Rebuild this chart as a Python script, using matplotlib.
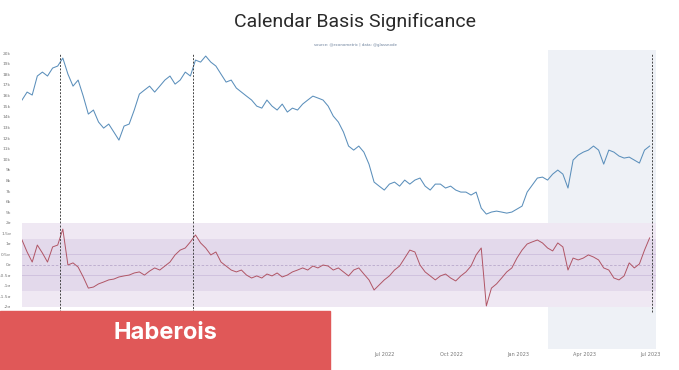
import numpy as np
import pandas as pd
import matplotlib
matplotlib.use("Agg")
import matplotlib.pyplot as plt
import matplotlib.dates as mdates

# weekly samples
dates = pd.date_range("2021-02-19", periods=124, freq="7D")

price = [15.58, 16.33, 16.05, 17.84, 18.21, 17.84, 18.59, 18.78, 19.53, 18.02,
         16.89, 17.46, 15.95, 14.26, 14.64, 13.51, 12.94, 13.32, 12.57, 11.81,
         13.13, 13.32, 14.64, 16.14, 16.52, 16.89, 16.33, 16.89, 17.46, 17.84,
         17.08, 17.46, 18.21, 17.84, 19.34, 19.15, 19.72, 19.15, 18.78, 18.02,
         17.27, 17.46, 16.71, 16.33, 15.95, 15.58, 15.01, 14.82, 15.58, 15.01,
         14.64, 15.20, 14.45, 14.82, 14.64, 15.20, 15.58, 15.95, 15.77, 15.58,
         15.01, 14.07, 13.51, 12.57, 11.25, 10.87, 11.25, 10.68, 9.55, 7.86,
         7.48, 7.11, 7.67, 7.86, 7.48, 8.05, 7.67, 8.05, 8.24, 7.48,
         7.11, 7.67, 7.67, 7.30, 7.48, 7.11, 6.92, 6.92, 6.64, 6.92,
         5.41, 4.85, 5.04, 5.13, 5.04, 4.94, 5.04, 5.32, 5.60, 6.92,
         7.58, 8.24, 8.33, 8.05, 8.61, 8.99, 8.61, 7.30, 9.93, 10.40,
         10.68, 10.87, 11.25, 10.87, 9.55, 10.87, 10.68, 10.31, 10.12, 10.21,
         9.93, 9.65, 10.87, 11.25]

basis_z = [1.19, 0.62, 0.14, 0.95, 0.57, 0.14, 0.86, 0.95, 1.71, 0.00,
           0.10, -0.10, -0.57, -1.10, -1.05, -0.90, -0.81, -0.71, -0.67, -0.57,
           -0.52, -0.48, -0.38, -0.33, -0.48, -0.29, -0.14, -0.24, -0.05, 0.14,
           0.48, 0.71, 0.81, 1.10, 1.43, 1.05, 0.81, 0.48, 0.62, 0.14,
           -0.05, -0.24, -0.33, -0.24, -0.48, -0.62, -0.52, -0.62, -0.43, -0.52,
           -0.38, -0.57, -0.48, -0.33, -0.24, -0.14, -0.24, -0.05, -0.14, 0.00,
           -0.05, -0.24, -0.14, -0.33, -0.52, -0.24, -0.14, -0.43, -0.71, -1.19,
           -0.95, -0.71, -0.52, -0.24, -0.05, 0.33, 0.71, 0.62, 0.00, -0.33,
           -0.52, -0.71, -0.52, -0.43, -0.62, -0.76, -0.52, -0.33, -0.05, 0.48,
           0.81, -1.95, -1.10, -0.90, -0.62, -0.33, -0.14, 0.33, 0.71, 1.00,
           1.10, 1.19, 1.05, 0.81, 0.67, 1.05, 0.86, -0.24, 0.33, 0.24,
           0.33, 0.48, 0.38, 0.24, -0.14, -0.24, -0.62, -0.71, -0.52, 0.10,
           -0.14, 0.05, 0.71, 1.29]

signal_dates = pd.to_datetime(["2021-04-12", "2021-10-12", "2023-07-03"])
shade_start, shade_end = pd.Timestamp("2023-02-11"), pd.Timestamp("2023-07-09")

price_ticks = list(range(4, 21))
z_ticks = [2, 1.5, 1, 0.5, 0, -0.5, -1, -1.5, -2, -2.5, -3, -3.5, -4]

xmin, xmax = pd.Timestamp("2021-02-19"), pd.Timestamp("2023-07-09")

fig = plt.figure(figsize=(6.79, 3.70), dpi=100)
ax1 = fig.add_axes([0.0324, 0.397, 0.934, 0.4676])
ax2 = fig.add_axes([0.0324, 0.0568, 0.934, 0.3405], sharex=ax1)

for ax in (ax1, ax2):
    for s in ax.spines.values():
        s.set_visible(False)
    ax.axvspan(shade_start, shade_end, color="#eef1f6", zorder=0, lw=0)
    ax.tick_params(length=0, labelsize=3.2, colors="#777777", pad=8)

# top panel
ax1.plot(dates, price, color="#5b8fbb", lw=0.75)
ax1.set_ylim(4, 20.28)
ax1.set_yticks(price_ticks[1:])
ax1.set_yticklabels([f"{t}k" for t in price_ticks[1:]])
ax1.tick_params(axis="x", labelbottom=False)
for d in signal_dates:
    ax1.axvline(d, color="#444444", lw=0.7, ls=(0, (2, 1.5)), ymax=0.98)

# bottom panel
ax2.axhspan(-2, 2, color="#efe8f3", lw=0, zorder=0.5)
ax2.axhspan(-1.25, 1.25, color="#e3d9eb", lw=0, zorder=0.6)
ax2.axhline(0.5, color="#d0c2de", lw=0.7)
ax2.axhline(-0.5, color="#d0c2de", lw=0.7)
ax2.axhline(0, color="#b9a9cb", lw=0.6, ls=(0, (3, 2)))
ax2.plot(dates, basis_z, color="#b05565", lw=0.7)
ax2.set_ylim(-4, 2)
ax2.set_yticks(z_ticks)
ax2.set_yticklabels([f"{t:g}σ" for t in z_ticks])
for d in signal_dates:
    ax2.axvline(d, color="#444444", lw=0.7, ls=(0, (2, 1.5)), ymin=0.294)

ax2.set_xlim(xmin, xmax)
ax2.xaxis.set_major_locator(mdates.MonthLocator(bymonth=[1, 4, 7, 10]))
ax2.xaxis.set_major_formatter(mdates.DateFormatter("%b %Y"))
ax2.tick_params(axis="x", labelsize=3.6, pad=2)

fig.text(0.523, 0.94, "Calendar Basis Significance", ha="center", va="center",
         fontsize=14, family="Roboto", fontweight="normal", color="#2a2a2a")
fig.text(0.523, 0.878, "source: @econometric | data: @glassnode", ha="center",
         va="center", fontsize=2.8, color="#6a7f9a")

# banner
fig.patches.append(plt.Rectangle((0, 0), 330 / 679, 59 / 370, transform=fig.transFigure,
                                 color="#e05858", zorder=5))
fig.text(165 / 679, 1 - 333 / 370, "Haberois", ha="center", va="center", fontsize=17,
         fontweight="bold", family="Inter", color="white", zorder=6)

fig.savefig("out.png", dpi=100)
